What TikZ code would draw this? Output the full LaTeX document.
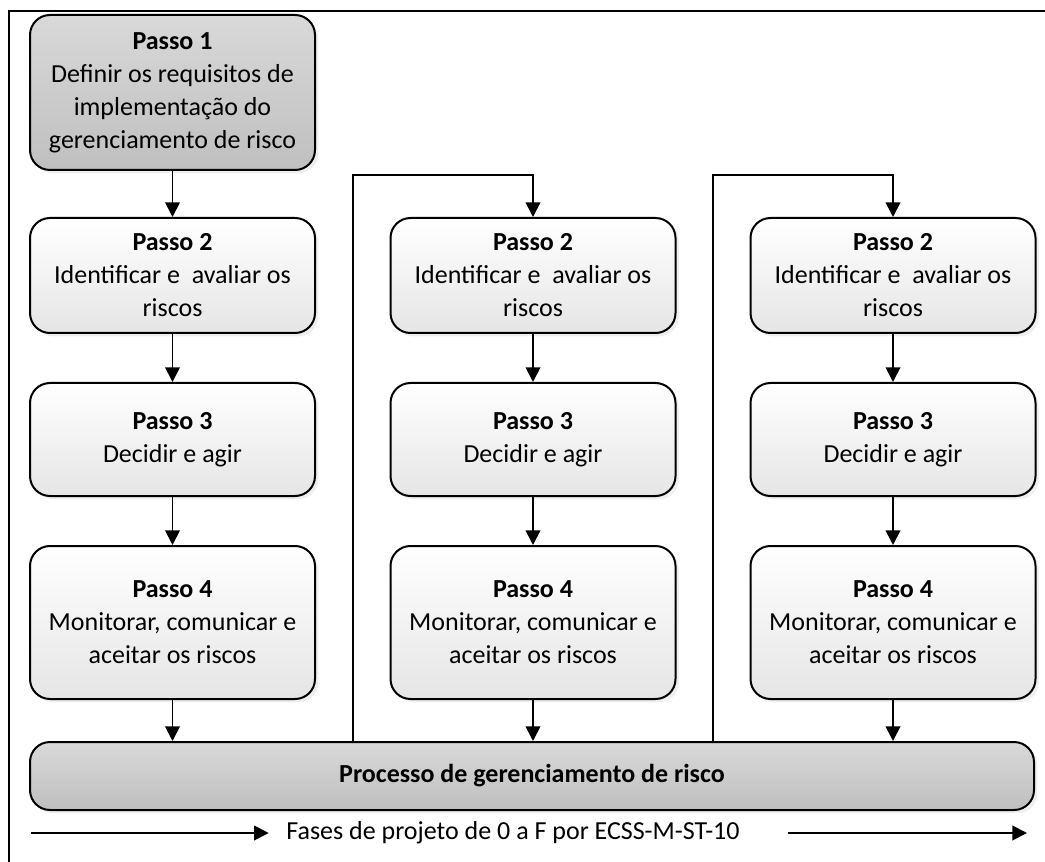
\documentclass[tikz,border=0pt]{standalone}
\usepackage{fontspec}
\setmainfont{Carlito}
\usetikzlibrary{positioning, arrows.meta, shadows}

\begin{document}
\begin{tikzpicture}[
            x=0.75pt, y=-0.75pt,
            stepbox/.style={rectangle, rounded corners=15pt, draw=black, line width=1.5pt, top color=white, bottom color=black!10, minimum width=213.75pt, align=center, inner sep=2pt, drop shadow={shadow xshift=2.5pt, shadow yshift=-2.5pt, fill=black!12}, font=\fontsize{19.5}{24.75}\selectfont},
            darkbox/.style={stepbox, top color=black!15, bottom color=black!25},
            flow/.style={line width=1.4pt, -{Triangle[length=11pt, width=11pt]}},
            ]
            \useasboundingbox (0,0) rectangle (1045,862);
            \clip (0,0) rectangle (1045,862);
            \draw[line width=1.5pt] (9,11) rectangle (1060,880);

            %Nodes
            \foreach \col/\cx in {a/172.5, b/533, c/893}{
              \node[stepbox, minimum height=86.25pt] (\col2) at (\cx,275.5) {\textbf{Passo 2}\\Identificar e \ avaliar os\\riscos};
              \node[stepbox, minimum height=84.75pt, below=36pt of \col2] (\col3) {\textbf{Passo 3}\\Decidir e agir};
              \node[stepbox, minimum height=114.75pt, below=36pt of \col3] (\col4) {\textbf{Passo 4}\\Monitorar, comunicar e\\aceitar os riscos};
            }
            \node[darkbox, minimum height=116.25pt, above=34.5pt of a2] (a1) {\textbf{Passo 1}\\Definir os requisitos de\\implementação do\\gerenciamento de risco};
            \node[darkbox, minimum width=753pt, minimum height=51pt] (bar) at (532,776) {\textbf{Processo de gerenciamento de risco}};
            \node[font=\fontsize{19.5}{24.75}\selectfont, inner sep=0pt] (phases) at (513,833) {Fases de projeto de 0 a F por ECSS-M-ST-10};

            \coordinate (backb) at (353,175);
            \coordinate (backc) at (713,175);
            \coordinate (phaseL) at (31,833);
            \coordinate (phaseR) at (1027,833);

            %Lines
            \draw[flow] (a1) -- (a2);
            \foreach \col in {a, b, c}{
              \draw[flow] (\col2) -- (\col3);
              \draw[flow] (\col3) -- (\col4);
              \draw[flow] (\col4) -- (bar.north -| \col4);
            }
            \draw[flow] (bar.north -| backb) -- (backb) -| (b2.north);
            \draw[flow] (bar.north -| backc) -- (backc) -| (c2.north);

            \draw[flow] (phaseL) -- ([xshift=-13pt]phases.west);
            \draw[flow] ([xshift=36pt]phases.east) -- (phaseR);
          \end{tikzpicture}
\end{document}
